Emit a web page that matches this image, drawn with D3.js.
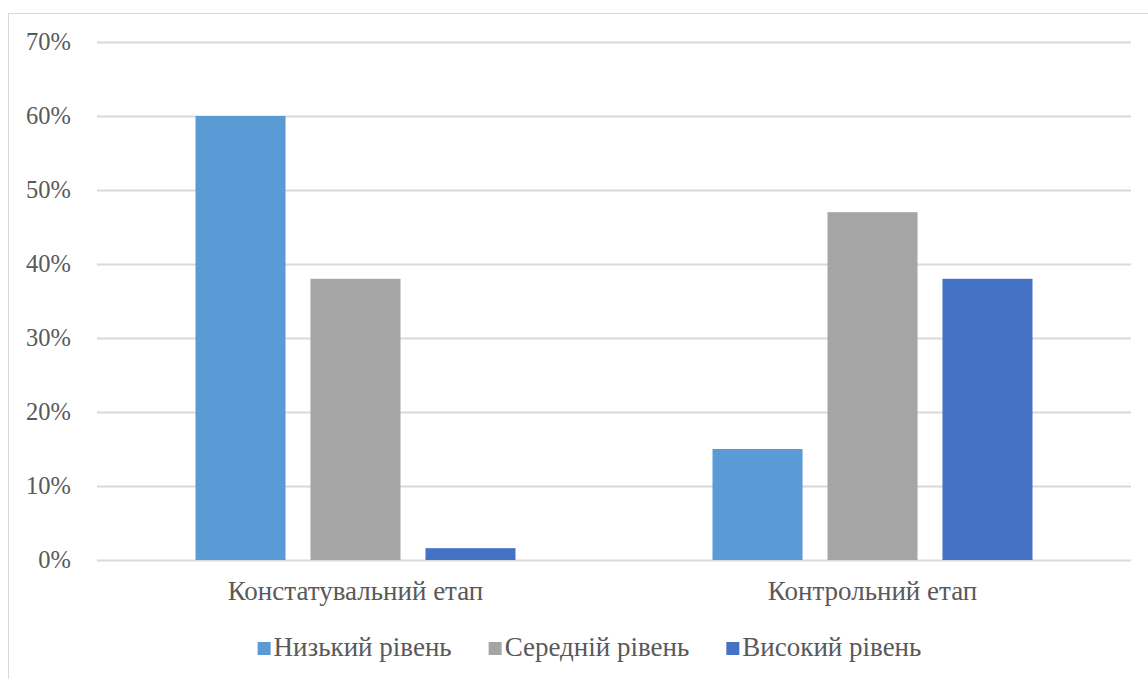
<!DOCTYPE html>
<html><head><meta charset="utf-8">
<script src="https://cdn.jsdelivr.net/npm/d3@7"></script>
</head>
<body style="margin:0;padding:0;background:#fff">
<svg id="chart" width="1148" height="679" style="display:block"></svg>
<script>
const categories = ["Констатувальний етап", "Контрольний етап"];
const seriesNames = ["Низький рівень", "Середній рівень", "Високий рівень"];
const lowValues = [0.60, 0.15];
const midValues = [0.38, 0.47];
const highValues = [0.016, 0.38];
const yTicks = [0, 0.1, 0.2, 0.3, 0.4, 0.5, 0.6, 0.7];
const colors = ["#5B9BD5", "#A5A5A5", "#4472C4"];

(function () {
const seriesValues = [lowValues, midValues, highValues];
const svg = d3.select("#chart");
const W = 1148, H = 679;
const mLeft = 97, mRight = 1131, mTop = 42, mBottom = 560;
const FONT = "'Liberation Serif', 'Times New Roman', serif";
const FS = 27, FS_TICK = 24.5;
const TXT = "#595959";

// chart border
svg.append("rect").attr("x", 8.5).attr("y", 13.5).attr("width", W + 20).attr("height", H + 20)
  .attr("fill", "none").attr("stroke", "#D9D9D9").attr("stroke-width", 1);

const y = d3.scaleLinear().domain([0, 0.7]).range([mBottom, mTop]);
const x0 = d3.scaleBand().domain(categories).range([mLeft, mRight]).padding(0);
const groupW = 320;
const x1 = d3.scaleBand().domain(seriesNames).range([0, groupW]).paddingInner(0.217).paddingOuter(0);

// gridlines + tick labels
const yAxis = d3.axisLeft(y).tickValues(yTicks).tickFormat(d3.format(".0%")).tickSize(-(mRight - mLeft)).tickPadding(26);
const gAxis = svg.append("g").attr("transform", `translate(${mLeft},0)`).call(yAxis);
gAxis.attr("font-family", null).attr("font-size", null);
gAxis.select(".domain").remove();
gAxis.selectAll(".tick line").attr("stroke", "#D9D9D9").attr("stroke-width", 2);
gAxis.selectAll(".tick text").style("font-family", FONT).style("font-size", FS_TICK + "px").attr("fill", TXT);

// bars
const groups = svg.append("g").selectAll("g").data(categories).join("g")
  .attr("transform", d => `translate(${x0(d) + (x0.bandwidth() - groupW) / 2},0)`);
groups.selectAll("rect").data((d, i) => seriesNames.map((s, j) => ({s, j, v: seriesValues[j][i]})))
  .join("rect")
  .attr("x", d => x1(d.s))
  .attr("width", x1.bandwidth())
  .attr("y", d => y(d.v))
  .attr("height", d => y(0) - y(d.v))
  .attr("fill", d => colors[d.j]);

// category labels
svg.append("g").selectAll("text").data(categories).join("text")
  .attr("x", d => x0(d) + x0.bandwidth() / 2)
  .attr("y", 600)
  .attr("text-anchor", "middle")
  .style("font-family", FONT)
  .style("font-size", FS + "px")
  .attr("fill", TXT)
  .text(d => d);

// legend
const legend = svg.append("g");
const items = legend.selectAll("g").data(seriesNames).join("g");
items.append("rect").attr("width", 13).attr("height", 13).attr("y", -14)
  .attr("fill", (d, i) => colors[i]);
items.append("text").attr("x", 16).attr("y", 0)
  .style("font-family", FONT).style("font-size", FS + "px").attr("fill", TXT).text(d => d);
let widths = [];
items.each(function () { widths.push(this.getBBox().width); });
const gap = 37;
const total = d3.sum(widths) + gap * (widths.length - 1);
let cx = 589.5 - total / 2;
items.attr("transform", (d, i) => { const t = `translate(${cx},656)`; cx += widths[i] + gap; return t; });
})();
</script>
</body></html>
